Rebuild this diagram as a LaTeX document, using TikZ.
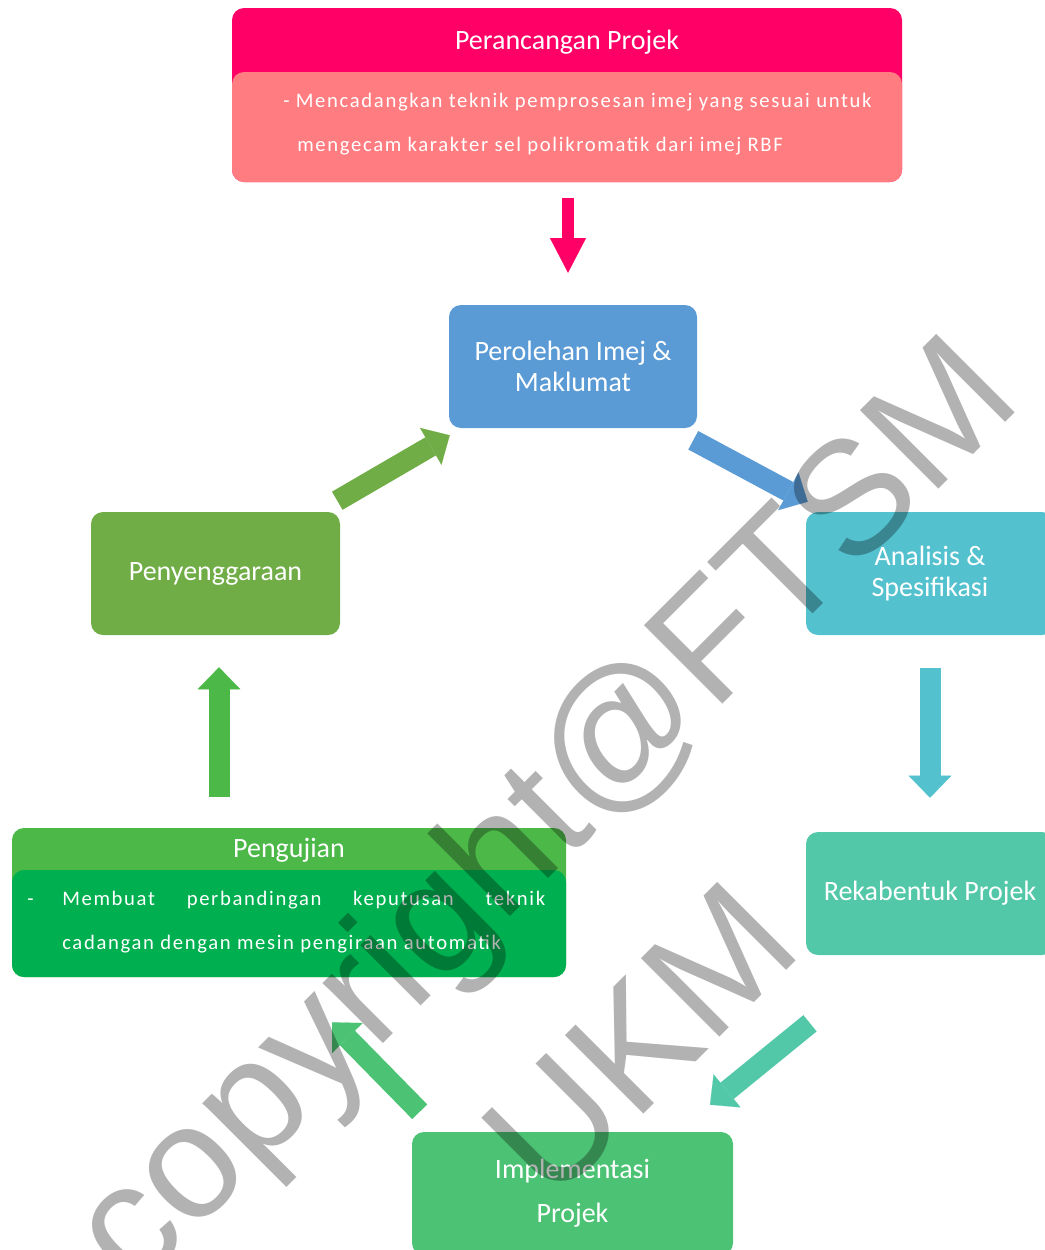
\documentclass[tikz,border=0pt]{standalone}
\usepackage{fontspec}
\setmainfont{Carlito}
\newfontfamily\spacedfont[LetterSpace=8]{Carlito}
\newfontfamily\markfont{Liberation Sans}
\usetikzlibrary{arrows.meta,calc}
\definecolor{projpink}{RGB}{255,0,102}
\definecolor{projsalmon}{RGB}{255,124,128}
\definecolor{imejblue}{RGB}{91,155,213}
\definecolor{analcyan}{RGB}{84,193,207}
\definecolor{rekateal}{RGB}{82,200,168}
\definecolor{implgreen}{RGB}{76,194,116}
\definecolor{ujilight}{RGB}{76,184,72}
\definecolor{ujidark}{RGB}{0,176,80}
\definecolor{selgreen}{RGB}{112,173,71}

\begin{document}
\begin{tikzpicture}[x=0.75pt,y=-0.75pt,
  box/.style={rounded corners=9pt, inner sep=0pt, text=white, align=center,
    font=\fontsize{21}{23.25}\selectfont},
  body/.style={inner sep=0pt, text=white, align=left,
    font=\spacedfont\fontsize{15.5}{33}\selectfont},
  flow/.style={draw=#1, line width=15.75pt,
    -{Triangle[width=32pt,length=16.5pt,line width=0.1pt]}},
  thinflow/.style={draw=#1, line width=9pt,
    -{Triangle[width=27pt,length=26pt,line width=0.1pt]}},
  watermark/.style={inner sep=0pt, rotate=45, text=black, text opacity=0.3,
    font=\markfont\fontsize{121}{121}\selectfont}]
  \useasboundingbox (0,0) rectangle (1045,1250);

  % project planning header
  \node[box, fill=projpink, minimum width=502.5pt, minimum height=130.5pt] (perancangan) at (567,95) {};
  \node[box, fill=projsalmon, minimum width=502.5pt, minimum height=82.5pt] (cadanganbox) at (567,127) {};
  \node[box] (perancangantitle) at ($(perancangan.north)+(0,34)$) {Perancangan Projek};
  \node[body, anchor=west] (cadangan) at (283,124)
    {- Mencadangkan teknik pemprosesan imej yang sesuai untuk\\
     \hspace*{10.5pt}mengecam karakter sel polikromatik dari imej RBF};

  % cycle
  \node[box, fill=imejblue, minimum width=186pt, minimum height=92.25pt] (perolehan) at (573,366.5) {Perolehan Imej \&\\Maklumat};
  \node[box, fill=analcyan, minimum width=186pt, minimum height=92.25pt] (analisis) at (930,573.5) {Analisis \&\\Spesifikasi};
  \node[box, fill=rekateal, minimum width=186pt, minimum height=92.25pt] (rekabentuk) at (930,893.5) {Rekabentuk Projek};
  \node[box, fill=implgreen, minimum width=240.75pt, minimum height=92.25pt,
    font=\fontsize{21}{33}\selectfont] (implementasi) at (572.5,1193.5) {Implementasi\\Projek};
  \node[box, fill=selgreen, minimum width=186.75pt, minimum height=92.25pt] (penyenggaraan) at (215.5,573.5) {Penyenggaraan};

  \node[box, fill=ujilight, minimum width=415.5pt, minimum height=111.75pt] (pengujian) at (289,902.5) {};
  \node[box, fill=ujidark, minimum width=415.5pt, minimum height=80.25pt] (ujianbox) at (289,923.5) {};
  \node[box] (pengujiantitle) at ($(pengujian.north)+(0,23)$) {Pengujian};
  \node[body, anchor=west] (ujian) at (27,922)
    {\makebox[26.25pt][l]{-}\makebox[362.25pt][s]{Membuat perbandingan keputusan teknik}\\
     \hspace*{26.25pt}cadangan dengan mesin pengiraan automatik};

  % arrows
  \draw[thinflow=projpink] ($(perancangan.south)+(1,16)$) -- ($(perolehan.north)+(-5,-32)$);
  \draw[flow=imejblue] ($(perolehan.south east)+(-4,12)$) -- ($(analisis.north west)+(2,-10)$);
  \draw[flow=analcyan] ($(analisis.south)+(0,33)$) -- ($(rekabentuk.north)+(0,-34)$);
  \draw[flow=rekateal] ($(rekabentuk.south)+(-120,68)$) -- ($(implementasi.north)+(137.5,-27)$);
  \draw[flow=implgreen] ($(implementasi.north west)+(8,-20)$) -- ($(pengujian.south)+(43,45)$);
  \draw[flow=ujilight] ($(pengujian.north)+(-70,-31)$) -- ($(penyenggaraan.south)+(3.5,32)$);
  \draw[flow=selgreen] ($(penyenggaraan.north east)+(-3,-11)$) -- ($(perolehan.south west)+(1,7)$);

  % watermark
  \node[watermark] (wmark) at (550,818) {copyright@FTSM};
  \node[watermark] (wmarkukm) at (640,1040) {UKM};
\end{tikzpicture}
\end{document}
